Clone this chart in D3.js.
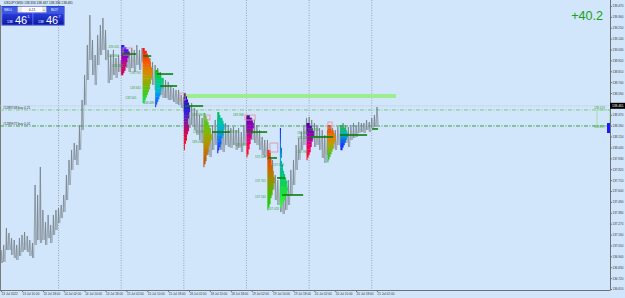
<!DOCTYPE html>
<html>
<head>
<meta charset="utf-8">
<script src="https://cdn.jsdelivr.net/npm/d3@7"></script>
<style>
body{margin:0;background:#d1e6fb;}
svg{display:block;font-family:"Liberation Sans",Arial,sans-serif;}
</style>
</head>
<body>
<div id="container"></div>
<script>
// USDJPY M30 with market profile blocks
// hours are trading hours since 13 Jul 00:00 (weekend skipped)

let firstHour = 2;
let highs = [
137.004,137.055,137.226,137.176,137.125,137.105,137.055,137.125,137.156,137.186,
137.146,137.105,137.075,137.661,137.560,137.843,137.408,137.287,137.358,137.257,
137.358,137.408,137.429,137.459,137.560,137.762,137.914,138.015,138.085,138.065,
138.267,138.520,138.772,139.075,139.378,139.126,138.974,139.176,139.277,139.348,
139.227,139.025,138.974,139.025,138.944,138.974,138.924,139.045,139.025,139.005,
139.045,139.025,139.075,139.025,139.045,139.005,138.974,138.944,138.904,138.873,
138.843,138.803,138.742,138.722,138.702,138.671,138.641,138.621,138.621,138.570,
138.550,138.520,138.469,138.489,138.439,138.419,138.368,138.338,138.297,138.267,
138.237,138.267,138.318,138.338,138.318,138.267,138.287,138.267,138.237,138.247,
138.216,138.237,138.196,138.267,138.348,138.368,138.338,138.318,138.267,138.216,
138.146,138.116,138.116,138.015,137.914,137.762,137.711,137.661,137.610,137.661,
137.711,137.813,137.914,138.065,138.136,138.196,138.267,138.338,138.348,138.318,
138.287,138.267,138.237,138.216,138.166,138.216,138.247,138.237,138.216,138.247,
138.267,138.287,138.267,138.247,138.267,138.287,138.267,138.297,138.287,138.287,
138.318,138.297,138.338,138.368,138.449];
let lows = [
136.873,136.883,137.004,137.004,136.954,136.923,136.903,136.944,136.984,137.004,
136.984,136.944,136.923,137.055,137.105,137.075,137.105,137.055,137.125,137.075,
137.156,137.206,137.277,137.327,137.388,137.509,137.661,137.813,137.914,137.863,
138.015,138.216,138.469,138.722,138.924,138.772,138.671,138.873,138.974,139.025,
138.924,138.691,138.722,138.772,138.742,138.803,138.772,138.823,138.843,138.803,
138.843,138.803,138.873,138.823,138.904,138.803,138.742,138.722,138.671,138.621,
138.641,138.570,138.540,138.540,138.520,138.520,138.499,138.479,138.469,138.439,
138.398,138.267,138.237,138.267,138.216,138.166,138.116,138.085,138.035,137.964,
137.944,138.015,138.065,138.116,138.015,137.994,138.065,138.045,138.035,138.065,
138.015,138.035,137.994,138.065,138.186,138.166,138.116,138.085,138.065,138.015,
137.964,137.944,137.914,137.762,137.610,137.509,137.459,137.388,137.368,137.408,
137.459,137.560,137.661,137.813,137.914,138.015,138.065,138.166,138.186,138.116,
138.045,138.065,138.015,137.934,137.883,137.964,138.015,138.035,138.015,138.065,
138.045,138.065,138.085,138.045,138.116,138.136,138.146,138.186,138.196,138.186,
138.216,138.196,138.237,138.247,138.267];

let lastPrice = 138.461;

// time axis
let timeTicks = [2,10,18,26,34,42,50,58,66,74,82,90,98,106,114,122,130,138,146];
let timeLabels = ["13 Jul 2022","13 Jul 10:00","13 Jul 18:00","14 Jul 02:00","14 Jul 10:00",
  "14 Jul 18:00","15 Jul 02:00","15 Jul 10:00","15 Jul 18:00","18 Jul 02:00","18 Jul 10:00",
  "18 Jul 18:00","19 Jul 02:00","19 Jul 10:00","19 Jul 18:00","20 Jul 02:00","20 Jul 10:00",
  "20 Jul 18:00","21 Jul 02:00"];
let daySeparators = [24,48,72,96,120,144];

// price axis labels
let priceTicks = d3.range(0,27).map(i => +(139.470 - i*0.110).toFixed(3));

// market profiles
let profileStart = [48, 56.2, 61, 72, 79.5, 84.8, 96, 104, 108.8, 119, 127, 132];
let profileHigh = [139.075,139.045,138.823,138.590,138.388,138.398,138.368,138.015,138.237,138.287,138.267,138.267];
let profileLow  = [138.772,138.489,138.449,138.015,137.843,137.984,137.944,137.408,137.439,137.914,137.893,138.015];
let profileVols = [
  [3,5,7,8,8,7,6,6,5,5,4,4,3,2],
  [2,4,5,6,7,8,8,9,10,9,9,8,8,7,7,6,5,4,3,2],
  [3,5,6,8,8,7,7,6,5,5,4,3,2,1],
  [2,3,4,5,6,6,5,5,4,4,5,5,4,3,3,2,1,1],
  [2,3,4,5,6,7,7,8,8,7,6,5,5,4,3,3,2,1],
  [2,3,5,6,7,7,6,6,5,4,4,3,2,1],
  [3,5,6,7,7,6,6,5,5,4,4,3,3,2,2,1],
  [2,3,3,4,4,5,5,6,6,7,7,6,6,5,5,4,3,3,2,1],
  [1,1,1,1,1,1,2,2,2,1,2,3,3,4,5,6,7,7,8,7,6,5,3,2],
  [3,5,6,7,7,6,6,5,5,4,4,3,2,1],
  [3,4,6,7,8,8,7,6,6,5,4,3,2,1],
  [3,5,6,7,7,6,5,4,3,2]
];
let profileColors = [
  ["#1a1aff","#8a00d0","#d0008a","#e00050"],
  ["#ff1010","#ff5a00","#d09a00","#5ac000","#10e050"],
  ["#10c010","#00d890","#00a8ff","#1a3aff"],
  ["#3a00b0","#1030ff","#e00050","#ff1010"],
  ["#30d030","#80c000","#d08000","#b05010"],
  ["#00c060","#00c8c8","#0080ff","#1a1aff"],
  ["#5a00a0","#a000c8","#ff0060","#ff1010"],
  ["#ff2a00","#d86000","#a09000","#40c000","#10d010"],
  ["#1a1aff","#0080ff","#00c0a0","#10d040","#30ff30"],
  ["#5000a0","#9000c8","#ff0060","#ff1010"],
  ["#e04000","#ff8000","#80c000","#10c040"],
  ["#10c040","#00c0c0","#0060ff","#1a1aff"]
];

// point of control lines
let pocFrom  = [48.3, 56.5, 61.7, 62.9, 72.5, 82.8, 96.2, 104.3, 107.7, 109.6, 120.3, 131.8, 144.1];
let pocTo    = [53.7, 59.5, 67.9, 69.4, 79.4, 89.7, 103.9, 107.7, 110.8, 117.7, 129.2, 142.2, 146.4];
let pocPrice = [138.984,138.964,138.782,138.661,138.459,138.196,138.196,137.934,137.732,137.560,138.146,138.166,138.227];

// small value area boxes
let boxFrom = [48.7, 70.5, 80.1, 95.4, 105, 127.2];
let boxTo   = [52.2, 72.5, 82, 99.3, 108, 128.8];
let boxHigh = [139.045,138.590,138.368,138.368,138.085,138.297];
let boxLow  = [138.974,138.520,138.318,138.318,137.994,138.237];

// profile price labels
let labelHour  = [43, 43, 44.5, 51.4, 51.4, 49.6, 56.5, 75.1, 75.5, 75.1, 90.8, 89, 91.6, 99.3, 99.3, 99.3, 104.3, 106.2, 115.4, 115.4, 115.4, 119.6];
let labelPrice = [139.055,138.964,138.863,138.792,138.641,138.540,138.489,138.368,138.196,138.095,138.368,138.196,138.065,137.944,137.701,137.540,137.418,137.863,138.186,138.136,137.994,138.216];

// open orders
let orderNames  = ["#1289748 buy 0.21","#1289972 buy 0.01"];
let orderPrices = [138.419, 138.257];
let orderColors = ["#76c476","#2c962c"];

// big light green zone
let zoneFrom = 71.6, zoneTo = 153.3, zoneHigh = 138.580, zoneLow = 138.540;

let w = 625;
let h = 298;
let plotRight = 610;
let plotBottom = 290;

let svg = d3.select("#container")
    .append("svg")
    .attr("width", w)
    .attr("height", h);

svg.append("rect").attr("width", w).attr("height", h).attr("fill", "#d1e6fb");

let x = d3.scaleLinear().domain([10,146]).range([22,377]);
let y = d3.scaleLinear().domain([136.600,139.530]).range([plotBottom,0]);
let volW = d3.scaleLinear().domain([0,10]).range([0,10.5]);

// day separators
svg.append("g").selectAll("line").data(daySeparators).enter().append("line")
    .attr("x1", d => x(d)).attr("x2", d => x(d))
    .attr("y1", 0).attr("y2", plotBottom)
    .attr("stroke", "#8593a3").attr("stroke-width", 0.8)
    .attr("stroke-dasharray", "1,1.5");

// left border
svg.append("line").attr("x1",0.5).attr("x2",0.5).attr("y1",5).attr("y2",plotBottom)
    .attr("stroke","#7a7a7a").attr("stroke-width",1);

// light green zone
svg.append("rect")
    .attr("x", x(zoneFrom)).attr("width", x(zoneTo)-x(zoneFrom))
    .attr("y", y(zoneHigh)).attr("height", y(zoneLow)-y(zoneHigh))
    .attr("fill", "#9cee8c");

// bid line
svg.append("line").attr("x1",0).attr("x2",plotRight)
    .attr("y1", y(lastPrice)).attr("y2", y(lastPrice))
    .attr("stroke","#bccde0").attr("stroke-width",0.6);

// order lines
let orders = svg.append("g");
orderPrices.forEach(function(p,i){
    orders.append("line")
        .attr("x1",0).attr("x2",plotRight)
        .attr("y1",y(p)).attr("y2",y(p))
        .attr("stroke",orderColors[i]).attr("stroke-width",0.9)
        .attr("stroke-dasharray","4,1.5,1,1.5");
    orders.append("text")
        .attr("x",3).attr("y",y(p)-1.2)
        .attr("font-size",3.2).attr("fill","#333")
        .text(orderNames[i]);
});

// price bars
let bars = highs.map(function(d,i){ return {h: firstHour+i, hi: d, lo: lows[i]}; });

let zig = [];
bars.forEach(function(d){
    zig.push([x(d.h), y(d.hi)]);
    zig.push([x(d.h+0.5), y(d.lo)]);
});
svg.append("path")
    .attr("d", d3.line()(zig))
    .attr("fill","none").attr("stroke","#8b969e").attr("stroke-width",0.6);

svg.append("g").selectAll("rect").data(bars).enter().append("rect")
    .attr("x", d => x(d.h)-0.35)
    .attr("width", 0.7)
    .attr("y", d => y(d.hi))
    .attr("height", d => y(d.lo)-y(d.hi))
    .attr("fill","#6c7882");

// profiles
let profG = svg.append("g");
profileStart.forEach(function(t,i){
    let vols = profileVols[i];
    let n = vols.length;
    let top = y(profileHigh[i]);
    let rh = (y(profileLow[i]) - top) / n;
    let col = d3.interpolateRgbBasis(profileColors[i]);
    profG.append("g").selectAll("rect").data(vols).enter().append("rect")
        .attr("x", x(t))
        .attr("y", (d,j) => top + j*rh)
        .attr("width", d => volW(d))
        .attr("height", rh + 0.25)
        .attr("fill", (d,j) => col(n>1 ? j/(n-1) : 0));
});

// value area boxes
svg.append("g").selectAll("rect").data(boxFrom).enter().append("rect")
    .attr("x", (d,i) => x(d))
    .attr("width", (d,i) => x(boxTo[i]) - x(d))
    .attr("y", (d,i) => y(boxHigh[i]))
    .attr("height", (d,i) => y(boxLow[i]) - y(boxHigh[i]))
    .attr("fill","none").attr("stroke","#e68c9c").attr("stroke-width",0.8);

// poc lines
svg.append("g").selectAll("line").data(pocPrice).enter().append("line")
    .attr("x1", (d,i) => x(pocFrom[i]))
    .attr("x2", (d,i) => x(pocTo[i]))
    .attr("y1", d => y(d)).attr("y2", d => y(d))
    .attr("stroke","#0b7d0b").attr("stroke-width",1.6);

// profile labels
svg.append("g").selectAll("text").data(labelPrice).enter().append("text")
    .attr("x", (d,i) => x(labelHour[i]))
    .attr("y", d => y(d)+1)
    .attr("font-size",3).attr("fill","#3c9a3c")
    .text(d => d.toFixed(3));

// right side order markers
svg.append("rect").attr("x",597).attr("width",13)
    .attr("y", y(orderPrices[0])).attr("height", y(orderPrices[1]) - y(orderPrices[0]))
    .attr("fill","none").attr("stroke","#8cd88c").attr("stroke-width",0.7);
svg.append("g").selectAll("text").data(orderPrices).enter().append("text")
    .attr("x",594).attr("y", (d,i) => y(d) + (i==0 ? -0.5 : 2.5))
    .attr("font-size",3).attr("fill","#3c9a3c")
    .text(d => d.toFixed(3));
svg.append("rect").attr("x",607).attr("width",3)
    .attr("y", y(138.287)).attr("height", y(138.186)-y(138.287))
    .attr("fill","#1a1aff");

// y axis
let yAxis = d3.axisRight(y)
    .tickValues(priceTicks.filter(d => Math.abs(d-lastPrice) > 0.05))
    .tickSize(2)
    .tickFormat(d3.format(".3f"));
let yAxisGroup = svg.append("g").attr("transform","translate("+plotRight+",0)").call(yAxis);
yAxisGroup.select(".domain").attr("d","M0.5,0V"+plotBottom).attr("stroke","#707070");
yAxisGroup.selectAll("line").attr("stroke","#707070");
yAxisGroup.selectAll("text").attr("font-size",3).attr("x",2.5).attr("fill","#333");

// last price box
svg.append("rect").attr("x",plotRight).attr("y",y(lastPrice)-3).attr("width",15).attr("height",6).attr("fill","#000");
svg.append("text").attr("x",plotRight+2).attr("y",y(lastPrice)+1.1)
    .attr("font-size",3.2).attr("fill","#fff").text(lastPrice.toFixed(3));

// x axis
let xAxis = d3.axisBottom(x)
    .tickValues(timeTicks)
    .tickSize(2)
    .tickFormat((d,i) => timeLabels[i]);
let xAxisGroup = svg.append("g").attr("transform","translate(0,"+plotBottom+")").call(xAxis);
xAxisGroup.select(".domain").attr("d","M0,0.5H"+(plotRight+0.5)).attr("stroke","#707070");
xAxisGroup.selectAll("line").attr("stroke","#707070");
xAxisGroup.selectAll("text").attr("font-size",3.1).attr("text-anchor","start")
    .attr("dx",0).attr("y",3).attr("dy","0.71em").attr("fill","#333");

// profit in the corner
svg.append("text").attr("x",603).attr("y",20).attr("text-anchor","end")
    .attr("font-size",12.6).attr("fill","#18a018").text("+40.2");

// title
svg.append("text").attr("x",4).attr("y",4).attr("font-size",3.2).attr("fill","#222")
    .text("USDJPY,M30  138.336 138.467 138.336 138.461");

// one click trading panel
let panel = svg.append("g");
let grad = svg.append("defs").append("linearGradient").attr("id","btn").attr("x1",0).attr("x2",0).attr("y1",0).attr("y2",1);
grad.append("stop").attr("offset","0%").attr("stop-color","#2a3ee0");
grad.append("stop").attr("offset","100%").attr("stop-color","#0a18a0");
panel.append("rect").attr("x",1.5).attr("y",6).attr("width",63).attr("height",19.5).attr("fill","#1b2bc0");
panel.append("rect").attr("x",2).attr("y",6.5).attr("width",15).attr("height",6).attr("fill","#3c5ae6");
panel.append("text").attr("x",4).attr("y",11).attr("font-size",3.4).attr("fill","#fff").text("SELL");
panel.append("rect").attr("x",17.5).attr("y",6.5).attr("width",4.5).attr("height",6).attr("fill","#e8e8e8");
panel.append("text").attr("x",18.5).attr("y",11).attr("font-size",3.4).attr("fill","#333").text("-");
panel.append("rect").attr("x",22).attr("y",6.5).attr("width",20).attr("height",6).attr("fill","#fff");
panel.append("text").attr("x",32).attr("y",11).attr("font-size",3.4).attr("fill","#222").attr("text-anchor","middle").text("0.21");
panel.append("rect").attr("x",42).attr("y",6.5).attr("width",4.5).attr("height",6).attr("fill","#e8e8e8");
panel.append("text").attr("x",43).attr("y",11).attr("font-size",3.4).attr("fill","#333").text("+");
panel.append("rect").attr("x",47).attr("y",6.5).attr("width",17).attr("height",6).attr("fill","#3c5ae6");
panel.append("text").attr("x",51).attr("y",11).attr("font-size",3.4).attr("fill","#fff").text("BUY");
[[2,"1"],[33,"7"]].forEach(function(b){
    panel.append("rect").attr("x",b[0]).attr("y",13).attr("width",31).attr("height",12)
        .attr("fill","url(#btn)").attr("stroke","#8fa0ff").attr("stroke-width",0.4);
    panel.append("text").attr("x",b[0]+5).attr("y",23).attr("font-size",3.4).attr("fill","#fff").text("138");
    panel.append("text").attr("x",b[0]+13).attr("y",24).attr("font-size",11).attr("fill","#fff").text("46");
    panel.append("text").attr("x",b[0]+25.5).attr("y",17.5).attr("font-size",3.6).attr("fill","#fff").text(b[1]);
});
</script>
</body>
</html>
